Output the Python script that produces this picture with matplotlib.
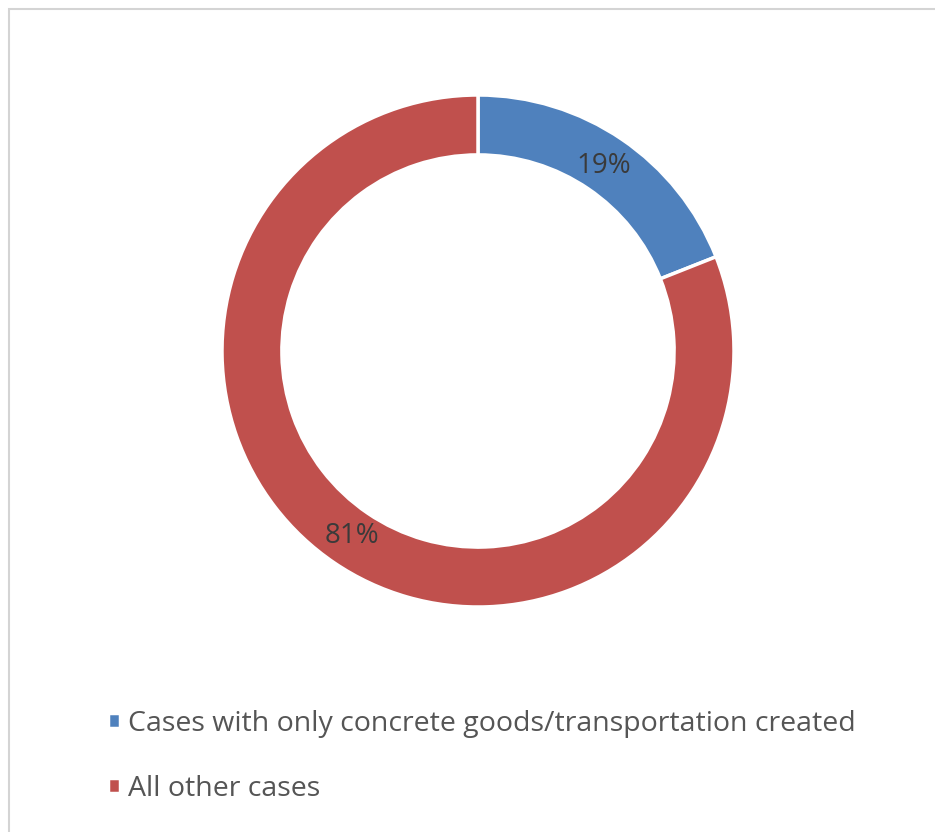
import matplotlib.pyplot as plt
from matplotlib.patches import Rectangle

# data
labels = ['Cases with only concrete goods/transportation created', 'All other cases']
shares = [19, 81]
colors = ['#4F81BD', '#C0504D']

plt.rcParams['font.family'] = ['Open Sans', 'DejaVu Sans']

fig = plt.figure(figsize=(9.35, 8.32), dpi=100)
fig.patch.set_facecolor('white')

# light frame around the chart area
fig.patches.append(Rectangle((9 / 935, -0.01), 1.0, 1 - 9 / 832 + 0.01,
                             transform=fig.transFigure, fill=False,
                             edgecolor='#d4d4d4', linewidth=1.5))

# donut axes: centre at (478, 351) px, radius 256 px
ax = fig.add_axes([222 / 935, (832 - 607) / 832, 512 / 935, 512 / 832])
wedges, texts, autotexts = ax.pie(
    shares, colors=colors, startangle=90, counterclock=False,
    radius=1.0, autopct='%d%%', pctdistance=0.875,
    wedgeprops=dict(width=0.234, edgecolor='white', linewidth=2.5),
    textprops=dict(fontsize=20, color='#3a3a3a'))
ax.set_xlim(-1, 1)
ax.set_ylim(-1, 1)
ax.set_aspect('equal')
ax.axis('off')

fig.legend(wedges, labels, loc='upper left',
           bbox_to_anchor=(108 / 935, 1 - 710 / 832),
           frameon=False, fontsize=20.5, labelcolor='#555555',
           handlelength=0.42, handleheight=0.42, handletextpad=0.3,
           labelspacing=1.29, borderaxespad=0, borderpad=0)

fig.savefig('out.png', dpi=100, facecolor='white')
